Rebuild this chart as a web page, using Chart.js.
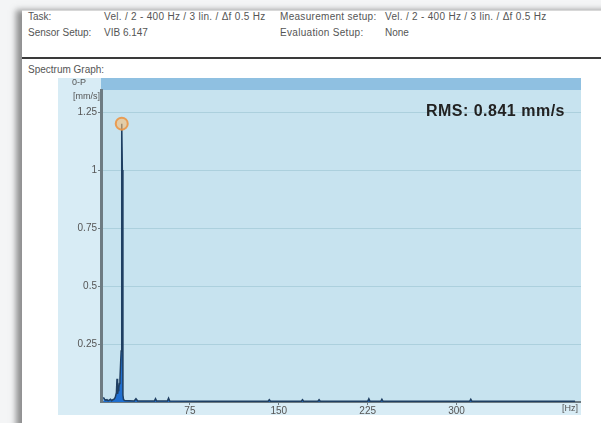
<!DOCTYPE html>
<html>
<head>
<meta charset="utf-8">
<script src="https://cdn.jsdelivr.net/npm/chart.js@4"></script>
<style>
  html, body { margin: 0; padding: 0; background: #f4f5f6; }
  body { width: 601px; height: 423px; position: relative; overflow: hidden; font-family: "Liberation Sans", Arial, sans-serif; }
  #page { position: absolute; left: 22px; top: 10px; width: 600px; height: 430px; background: #fff;
          border-top: 1px solid #d8d8d8; box-shadow: -6px 0 6px rgba(60,60,60,0.55); }
  .t { position: absolute; font-size: 10px; color: #555; white-space: nowrap; }
  #rule { position: absolute; left: 22px; top: 57px; width: 580px; height: 2px; background: #3a3a3a; }
  #wrap { position: absolute; left: 58px; top: 78px; width: 523px; height: 337px; }
</style>
</head>
<body>
<div id="page"></div>
<div class="t" style="left:28px;top:11px">Task:</div>
<div class="t" style="left:104px;top:11px;letter-spacing:0.3px">Vel. / 2 - 400 Hz / 3 lin. / Δf 0.5 Hz</div>
<div class="t" style="left:280px;top:11px;letter-spacing:0.3px">Measurement setup:</div>
<div class="t" style="left:385px;top:11px;letter-spacing:0.3px">Vel. / 2 - 400 Hz / 3 lin. / Δf 0.5 Hz</div>
<div class="t" style="left:28px;top:27px">Sensor Setup:</div>
<div class="t" style="left:104px;top:27px">VIB 6.147</div>
<div class="t" style="left:280px;top:27px;letter-spacing:0.3px">Evaluation Setup:</div>
<div class="t" style="left:385px;top:27px">None</div>
<div id="rule"></div>
<div class="t" style="left:28px;top:64px">Spectrum Graph:</div>
<div id="wrap"><canvas id="spectrum" width="523" height="337"></canvas></div>

<script>
/* ---- data ---- */
const freqHz = [2, 3, 4, 5, 6, 7, 8, 9, 10, 11, 12, 13, 13.5, 14, 14.5, 15, 15.5, 16, 16.5, 17, 17.5, 18, 18.5, 19, 20,
                28, 29.5, 31, 45, 46, 47, 56, 57, 58, 100, 120, 141, 142, 143, 169, 170, 171, 183, 184, 185,
                225, 226, 227, 236, 237, 238, 270, 311, 312, 313, 350, 400];
const ampMmS = [0.02, 0.012, 0.008, 0.01, 0.006, 0.008, 0.012, 0.006, 0.01, 0.012, 0.02, 0.04, 0.1, 0.035, 0.05, 0.06, 0.08, 0.1, 0.16, 0.22, 1.2, 1.0, 0.03, 0.01, 0.006,
                0.004, 0.014, 0.004, 0.004, 0.014, 0.004, 0.004, 0.016, 0.004, 0.003, 0.003, 0.003, 0.01, 0.003, 0.003, 0.01, 0.003, 0.003, 0.01, 0.003,
                0.003, 0.014, 0.003, 0.003, 0.012, 0.003, 0.003, 0.003, 0.012, 0.003, 0.003, 0.003];
const peakHz = [17.5];
const peakAmp = [1.2];
const yTicks = [0.25, 0.5, 0.75, 1, 1.25];
const xTicks = [75, 150, 225, 300];
const rmsLabel = 'RMS: 0.841 mm/s';

/* ---- backgrounds, band and extra labels ---- */
const panelPlugin = {
    id: 'panel',
    beforeDraw(chart) {
        const { ctx, chartArea: a, width, height } = chart;
        ctx.save();
        ctx.fillStyle = '#d8ecf5';
        ctx.fillRect(0, 0, width, height);
        ctx.fillStyle = '#c7e3ef';
        ctx.fillRect(a.left, a.top, a.right - a.left, a.bottom - a.top);
        ctx.fillStyle = '#8fc0e1';
        ctx.fillRect(a.left, 0, a.right - a.left, a.top);
        ctx.restore();
    },
    afterDraw(chart) {
        const { ctx, chartArea: a } = chart;
        ctx.save();
        ctx.fillStyle = '#555';
        ctx.font = '9px "Liberation Sans", Arial, sans-serif';
        ctx.textBaseline = 'middle';
        ctx.textAlign = 'center';
        ctx.fillText('0-P', 21, 5);
        ctx.textAlign = 'right';
        ctx.fillText('[mm/s]', a.left - 1, 19);
        ctx.fillText('[Hz]', a.right - 3, a.bottom + 7);
        ctx.fillStyle = '#222';
        ctx.font = 'bold 16px "Liberation Sans", Arial, sans-serif';
        ctx.letterSpacing = '0.5px';
        ctx.fillText(rmsLabel, a.right - 16, 34);
        ctx.restore();
    }
};

const tickFont = { size: 10, family: '"Liberation Sans", Arial, sans-serif' };

const ctx = document.getElementById('spectrum').getContext('2d');

new Chart(ctx, {
    type: 'line',
    data: {
        datasets: [{
            label: 'Peak',
            data: peakHz.map((f, i) => ({ x: f, y: peakAmp[i] })),
            showLine: false,
            pointRadius: 6,
            pointBorderWidth: 2,
            pointBorderColor: 'rgba(235,150,70,0.9)',
            pointBackgroundColor: 'rgba(245,190,120,0.6)'
        }, {
            label: 'Spectrum',
            data: freqHz.map((f, i) => ({ x: f, y: ampMmS[i] })),
            borderColor: '#1f3f62',
            borderWidth: 1.5,
            backgroundColor: '#1f6fd0',
            fill: 'origin',
            pointRadius: 0,
            tension: 0
        }]
    },
    options: {
        responsive: false,
        animation: false,
        layout: { autoPadding: false, padding: { top: 12, right: 0, left: 0, bottom: 0 } },
        plugins: {
            legend: { display: false },
            tooltip: { enabled: false }
        },
        scales: {
            x: {
                type: 'linear',
                min: 0,
                max: 405,
                afterFit: s => { s.height = 13; s.paddingLeft = 0; s.paddingRight = 0 },
                afterBuildTicks: s => { s.ticks = xTicks.map(v => ({ value: v })) },
                ticks: { padding: 0, color: '#555', font: tickFont, maxRotation: 0, autoSkip: false },
                grid: { drawOnChartArea: false, tickLength: 3, color: '#6d7b82' },
                border: { color: '#6d7b82', width: 2 }
            },
            y: {
                min: 0,
                max: 1.345,
                afterFit: s => { s.width = 43; s.paddingTop = 0; s.paddingBottom = 0 },
                afterBuildTicks: s => { s.ticks = yTicks.map(v => ({ value: v })) },
                ticks: { padding: 1, color: '#555', font: tickFont, callback: v => String(v) },
                grid: { color: 'rgba(140,185,200,0.45)', tickLength: 3, tickColor: '#6d7b82' },
                border: { color: '#6d7b82', width: 3 }
            }
        }
    },
    plugins: [panelPlugin]
});
</script>
</body>
</html>
